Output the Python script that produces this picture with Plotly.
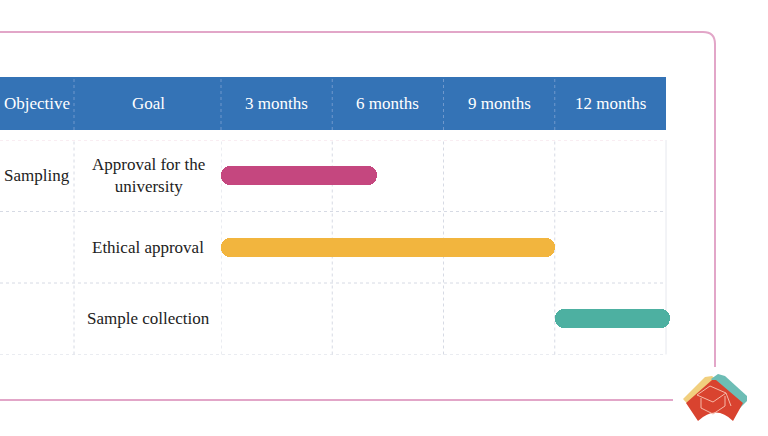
import plotly.graph_objects as go

W, H = 768, 436

# Table data
objectives = ["Sampling", "", ""]
goals = ["Approval for the<br>university", "Ethical approval", "Sample collection"]
starts = [0, 0, 9]          # months
ends = [4.2, 9, 12.1]       # months
bar_colors = ["#C5477F", "#F2B53E", "#4DB0A1"]
periods = [3, 6, 9, 12]
period_labels = ["3 months", "6 months", "9 months", "12 months"]
header_labels = ["Objective", "Goal"]

# pixel -> paper helpers
def px(x):
    return x / W

def py(y):
    return 1 - y / H

TABLE_TOP, TABLE_BOTTOM = 140, 354.5
COL_OBJ, COL_GOAL, TIME_L, TIME_R = 74, 221, 221, 666
AXIS_R = 676  # axis area a bit wider than the table so the last bar cap isn't clipped
MONTH_PX = (TIME_R - TIME_L) / 12
FONT = "Liberation Serif, Times New Roman, serif"
FS = 17

fig = go.Figure()

rows = list(range(len(goals)))
fig.add_trace(go.Bar(
    y=rows,
    x=[e - s for s, e in zip(starts, ends)],
    base=starts,
    orientation="h",
    width=0.27,
    marker=dict(color=bar_colors, cornerradius=10, line=dict(width=0)),
    cliponaxis=False,
    hoverinfo="skip",
    showlegend=False,
))

shapes = []
grid = dict(color="#D6DAE4", width=1, dash="dot")

# header band
shapes.append(dict(type="rect", xref="paper", yref="paper",
                   x0=-0.01, x1=px(TIME_R), y0=py(130), y1=py(77),
                   fillcolor="#3473B6", line=dict(width=0), layer="below"))
for xv in [COL_OBJ, COL_GOAL]:
    shapes.append(dict(type="line", xref="paper", yref="paper",
                       x0=px(xv), x1=px(xv), y0=py(130), y1=py(77),
                       line=dict(color="#6F98CC", width=1, dash="dot")))
for p in periods[:-1]:
    shapes.append(dict(type="line", xref="x", yref="paper",
                       x0=p, x1=p, y0=py(130), y1=py(77),
                       line=dict(color="#6F98CC", width=1, dash="dot")))

# table grid
for i in range(len(goals) + 1):
    shapes.append(dict(type="line", xref="paper", yref="y",
                       x0=0, x1=px(TIME_R), y0=i - 0.5, y1=i - 0.5,
                       line=dict(color="#F3DCE6" if i == 0 else "#D6DAE4", width=1, dash="dot"),
                       layer="below"))
shapes.append(dict(type="line", xref="paper", yref="paper",
                   x0=px(COL_OBJ), x1=px(COL_OBJ), y0=py(TABLE_BOTTOM), y1=py(TABLE_TOP),
                   line=grid, layer="below"))
for p in [0] + periods:
    shapes.append(dict(type="line", xref="x", yref="paper",
                       x0=p, x1=p, y0=py(TABLE_BOTTOM), y1=py(TABLE_TOP),
                       line=grid if p < 12 else dict(color="#E6E8EE", width=1),
                       layer="below"))

# pink frame
frame = dict(color="#E2A6C8", width=2)
shapes.append(dict(type="path", xref="paper", yref="paper",
                   path=(f"M {px(-5)},{py(32)} L {px(703)},{py(32)} "
                         f"Q {px(715)},{py(32)} {px(715)},{py(44)} L {px(715)},{py(367)}"),
                   line=frame))
shapes.append(dict(type="line", xref="paper", yref="paper",
                   x0=px(-5), x1=px(673), y0=py(400), y1=py(400), line=frame))

# logo (decorative)
def path(pts, close=True):
    s = "M " + " L ".join(f"{px(a)},{py(b)}" for a, b in pts)
    return s + (" Z" if close else "")

shapes.append(dict(type="path", xref="paper", yref="paper",
                   path=path([(683, 399), (705, 377), (712, 376), (718, 381), (694, 411)]),
                   fillcolor="#F1CF7E", line=dict(width=0)))
shapes.append(dict(type="path", xref="paper", yref="paper",
                   path=path([(711, 379), (718, 374), (725, 376), (747, 396), (747, 401), (739, 409)]),
                   fillcolor="#6DBDB5", line=dict(width=0)))
shapes.append(dict(type="path", xref="paper", yref="paper",
                   path=(f"M {px(686)},{py(403)} L {px(712)},{py(380)} L {px(716)},{py(380)} "
                         f"L {px(743)},{py(403)} L {px(733)},{py(421)} "
                         f"Q {px(716)},{py(404)} {px(698)},{py(421)} Z"),
                   fillcolor="#D9432F", line=dict(width=0)))
cap = dict(color="#F6B9A8", width=1)
shapes.append(dict(type="path", xref="paper", yref="paper",
                   path=path([(697, 395), (710, 386), (726, 393), (713, 402)]), line=cap))
shapes.append(dict(type="path", xref="paper", yref="paper",
                   path=path([(701, 398), (701, 408), (713, 414), (725, 406), (725, 396)], close=False),
                   line=cap))
shapes.append(dict(type="line", xref="paper", yref="paper",
                   x0=px(726), x1=px(731), y0=py(393), y1=py(406), line=cap))

annotations = []
txt = dict(showarrow=False, xanchor="center", yanchor="middle")
# header text
for lab, xc in zip(header_labels, [37, 148]):
    annotations.append(dict(x=px(xc), y=py(103.5), xref="paper", yref="paper", text=lab,
                            font=dict(family=FONT, size=FS, color="white"), **txt))
for p, lab in zip(periods, period_labels):
    annotations.append(dict(x=p - 1.5, y=py(103.5), xref="x", yref="paper", text=lab,
                            font=dict(family=FONT, size=FS, color="white"), **txt))
# row text
for r, (obj, goal) in enumerate(zip(objectives, goals)):
    if obj:
        annotations.append(dict(x=px(37), y=r, xref="paper", yref="y", text=obj,
                                font=dict(family=FONT, size=FS, color="#222222"), **txt))
    annotations.append(dict(x=px(148), y=r, xref="paper", yref="y", text=goal, align="center",
                            font=dict(family=FONT, size=FS, color="#222222"), **txt))

fig.update_layout(
    width=W, height=H,
    margin=dict(l=0, r=0, t=0, b=0),
    paper_bgcolor="white", plot_bgcolor="rgba(0,0,0,0)",
    xaxis=dict(domain=[px(TIME_L), px(AXIS_R)], range=[0, (AXIS_R - TIME_L) / MONTH_PX],
               showgrid=False, zeroline=False, showticklabels=False, fixedrange=True),
    yaxis=dict(domain=[py(TABLE_BOTTOM), py(TABLE_TOP)], range=[2.5, -0.5],
               showgrid=False, zeroline=False, showticklabels=False, fixedrange=True),
    shapes=shapes,
    annotations=annotations,
    bargap=0,
)

fig.write_html("out.html", config={"displayModeBar": False},
               post_script="document.body.style.margin='0';")
